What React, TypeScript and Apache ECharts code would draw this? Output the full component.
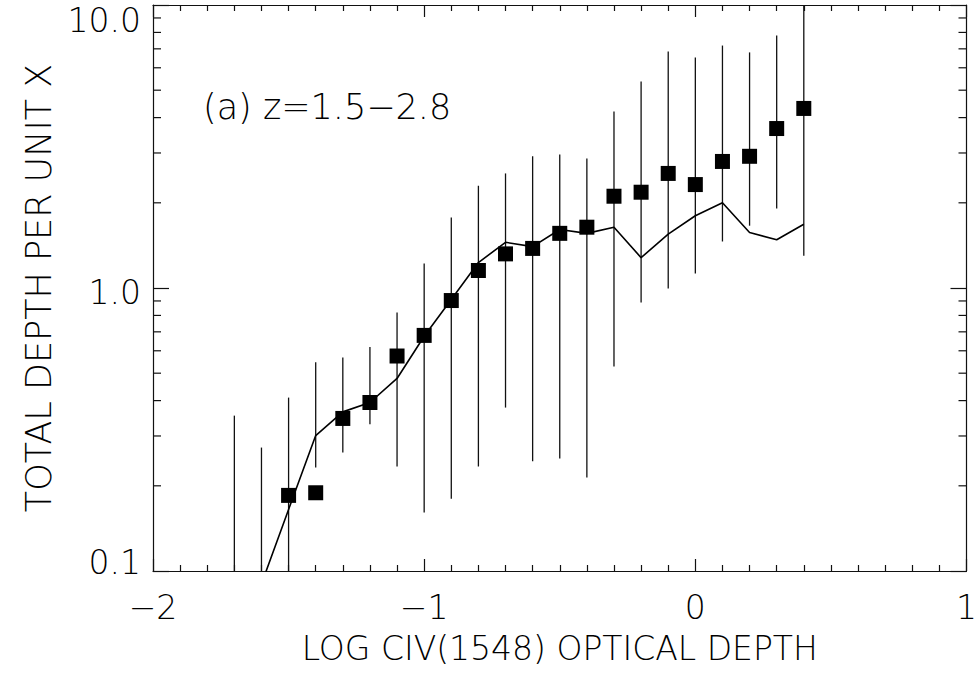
import React, { useEffect, useRef } from "react";
import * as echarts from "echarts";

// Error bars (x, low, high)
const errX = [-1.7, -1.6, -1.5, -1.4, -1.3, -1.2, -1.1, -1.0, -0.9, -0.8, -0.7, -0.6, -0.5, -0.4, -0.3, -0.2, -0.1, 0.0, 0.1, 0.2, 0.3, 0.4];
const errLow = [0.05, 0.05, 0.05, 0.232, 0.262, 0.33, 0.234, 0.161, 0.18, 0.234, 0.378, 0.244, 0.25, 0.214, 0.528, 0.889, 0.996, 1.125, 1.46, 1.66, 1.91, 1.3];
const errHigh = [0.354, 0.273, 0.41, 0.546, 0.568, 0.619, 0.819, 1.221, 1.775, 2.3, 2.54, 2.92, 2.96, 2.87, 4.2, 5.37, 6.85, 6.52, 7.19, 6.8, 7.8, 12];

// Measured points (filled squares)
const pointX = [-1.5, -1.4, -1.3, -1.2, -1.1, -1.0, -0.9, -0.8, -0.7, -0.6, -0.5, -0.4, -0.3, -0.2, -0.1, 0.0, 0.1, 0.2, 0.3, 0.4];
const pointY = [0.185, 0.189, 0.346, 0.394, 0.575, 0.68, 0.903, 1.153, 1.32, 1.38, 1.56, 1.64, 2.11, 2.18, 2.54, 2.32, 2.8, 2.92, 3.66, 4.31];

// Model curve
const modelX = [-1.6, -1.5, -1.4, -1.3, -1.2, -1.1, -1.0, -0.9, -0.8, -0.7, -0.6, -0.5, -0.4, -0.3, -0.2, -0.1, 0.0, 0.1, 0.2, 0.3, 0.4];
const modelY = [0.09, 0.165, 0.301, 0.365, 0.394, 0.479, 0.675, 0.911, 1.23, 1.45, 1.4, 1.61, 1.56, 1.64, 1.28, 1.55, 1.8, 2.0, 1.57, 1.48, 1.68];

// Log-axis minor tick values
const yMinorTicks = [0.2, 0.3, 0.4, 0.5, 0.6, 0.7, 0.8, 0.9, 2, 3, 4, 5, 6, 7, 8, 9];

const xTitle = "LOG CIV(1548) OPTICAL DEPTH";
const yTitle = "TOTAL DEPTH PER UNIT X";
const annotation = "(a) z=1.5\u22122.8";

const FONT = "DejaVu Sans";
const INK = "#111";

export default function App() {
  const ref = useRef<HTMLDivElement>(null);
  useEffect(() => {
    if (!ref.current) return;
    const chart = echarts.init(ref.current, null, { renderer: "svg" });
    const axisLine = { show: true, onZero: false, lineStyle: { color: INK, width: 1.2 } };
    const txt = { fontFamily: FONT, fontSize: 33, fontWeight: 200 as any, color: "#000" };
    const option: any = {
      animation: false,
      backgroundColor: "#fff",
      grid: { left: 153, right: 8, top: 5, bottom: 103 },
      graphic: [
        {
          type: "text",
          left: 203,
          top: 89,
          style: { text: annotation, font: `200 35px "${FONT}"`, fill: "#000" },
        },
      ],
      xAxis: [
        {
          type: "value",
          min: -2,
          max: 1,
          interval: 1,
          position: "bottom",
          axisLine,
          axisTick: { show: true, inside: true, length: 12, lineStyle: { color: INK, width: 1.2 } },
          minorTick: { show: true, splitNumber: 10, length: 6, lineStyle: { color: INK, width: 1.2 } },
          splitLine: { show: false },
          minorSplitLine: { show: false },
          axisLabel: {
            ...txt,
            margin: 20,
            showMinLabel: true,
            showMaxLabel: true,
            formatter: (v: number) => (v < 0 ? "\u2212" + Math.abs(v) : String(v)),
          },
          name: xTitle,
          nameLocation: "middle",
          nameGap: 61,
          nameTextStyle: { ...txt },
        },
        {
          type: "value",
          min: -2,
          max: 1,
          interval: 1,
          position: "top",
          axisLine,
          axisTick: { show: true, inside: true, length: 12, lineStyle: { color: INK, width: 1.2 } },
          minorTick: { show: true, splitNumber: 10, length: 6, lineStyle: { color: INK, width: 1.2 } },
          splitLine: { show: false },
          axisLabel: { show: false },
        },
      ],
      yAxis: [
        {
          type: "log",
          logBase: 10,
          min: 0.1,
          max: 10,
          position: "left",
          axisLine,
          axisTick: { show: true, inside: true, length: 16, lineStyle: { color: INK, width: 1.2 } },
          minorTick: { show: false },
          splitLine: { show: false },
          axisLabel: {
            ...txt,
            margin: 12,
            showMinLabel: true,
            showMaxLabel: true,
            formatter: (v: number) => {
              const e = Math.round(Math.log10(v));
              const s = Math.pow(10, e).toFixed(1);
              return e >= 1 ? `{t|${s}}` : e <= -1 ? `{b|${s}}` : `{m|${s}}`;
            },
            rich: {
              t: { ...txt, padding: [31, 0, 0, 0] },
              m: { ...txt, padding: [8, 0, 0, 0] },
              b: { ...txt, padding: [0, 0, 18, 0] },
            },
          },
          name: yTitle,
          nameLocation: "middle",
          nameGap: 96,
          nameRotate: 90,
          nameTextStyle: { ...txt, fontSize: 35 },
        },
        {
          type: "log",
          logBase: 10,
          min: 0.1,
          max: 10,
          position: "right",
          axisLine,
          axisTick: { show: true, inside: true, length: 16, lineStyle: { color: INK, width: 1.2 } },
          minorTick: { show: false },
          splitLine: { show: false },
          axisLabel: { show: false },
        },
      ],
      series: [
        {
          type: "custom",
          name: "minorTicks",
          xAxisIndex: 0,
          yAxisIndex: 0,
          silent: true,
          data: yMinorTicks.map((v) => [-2, v]),
          encode: { x: 0, y: 1 },
          renderItem: (params: any, api: any) => {
            const cs = params.coordSys;
            const y = api.coord([api.value(0), api.value(1)])[1];
            const st = { stroke: INK, lineWidth: 1.2 };
            return {
              type: "group",
              children: [
                { type: "line", shape: { x1: cs.x, y1: y, x2: cs.x + 8, y2: y }, style: st },
                { type: "line", shape: { x1: cs.x + cs.width - 8, y1: y, x2: cs.x + cs.width, y2: y }, style: st },
              ],
            };
          },
          z: 1,
        },
        {
          type: "custom",
          name: "errors",
          xAxisIndex: 0,
          yAxisIndex: 0,
          silent: true,
          data: errX.map((x, i) => [x, errLow[i], errHigh[i]]),
          encode: { x: 0, y: [1, 2] },
          renderItem: (params: any, api: any) => {
            const cs = params.coordSys;
            const x = api.value(0);
            const p1 = api.coord([x, api.value(1)]);
            const p2 = api.coord([x, api.value(2)]);
            const clamp = (y: number) => Math.max(cs.y, Math.min(cs.y + cs.height, y));
            return {
              type: "line",
              shape: { x1: p1[0], y1: clamp(p1[1]), x2: p2[0], y2: clamp(p2[1]) },
              style: { stroke: "#111", lineWidth: 1.3 },
            };
          },
          z: 2,
        },
        {
          type: "line",
          name: "model",
          xAxisIndex: 0,
          yAxisIndex: 0,
          data: modelX.map((x, i) => [x, modelY[i]]),
          showSymbol: false,
          symbol: "none",
          clip: true,
          lineStyle: { color: "#000", width: 1.6 },
          z: 3,
        },
        {
          type: "scatter",
          name: "points",
          xAxisIndex: 0,
          yAxisIndex: 0,
          data: pointX.map((x, i) => [x, pointY[i]]),
          symbol: "rect",
          symbolSize: 15,
          itemStyle: { color: "#000", opacity: 1 },
          z: 4,
        },
      ],
    };
    chart.setOption(option);
    return () => chart.dispose();
  }, []);
  return <div ref={ref} style={{ position: "fixed", left: 0, top: 0, width: 980, height: 674 }} />;
}
